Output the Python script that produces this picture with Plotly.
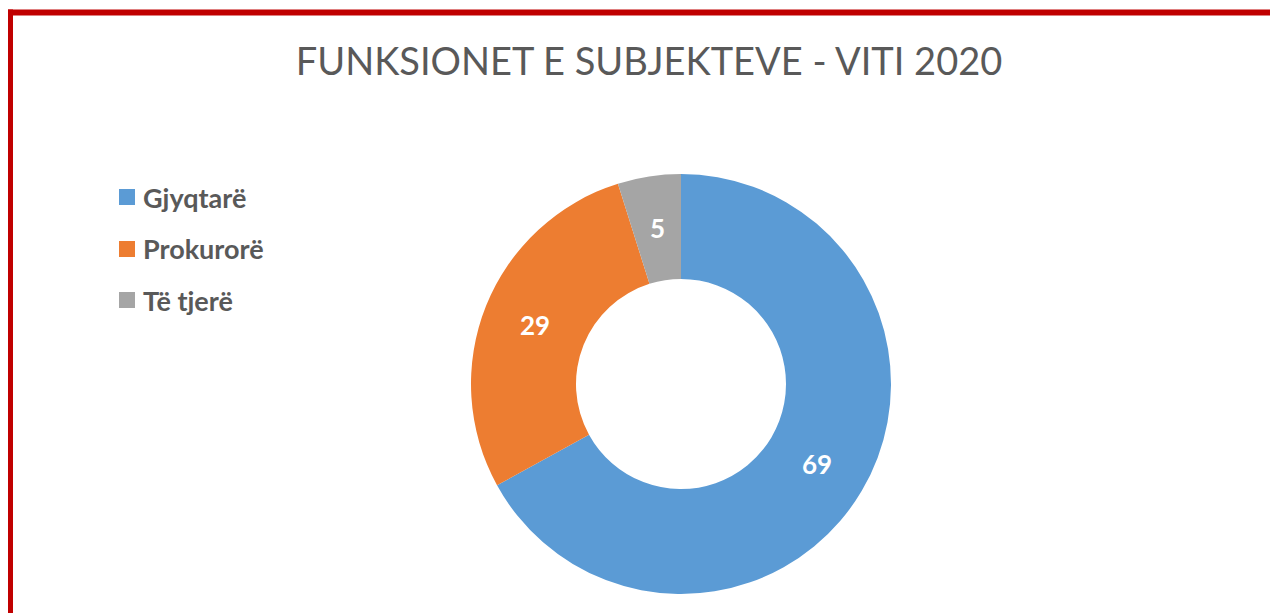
import math
import plotly.graph_objects as go

labels = ["Gjyqtarë", "Prokurorë", "Të tjerë"]
values = [69, 29, 5]
colors = ["#5B9BD5", "#ED7D31", "#A5A5A5"]
title_text = "FUNKSIONET E SUBJEKTEVE - VITI 2020"

OFF = 8  # default page body margin
W, H = 1278 - OFF, 613 - OFF


def px(x):
    return (x - OFF) / W


def py(y):
    return 1 - (y - OFF) / H


cx, cy, r, hole = 681, 384, 210, 0.5

fig = go.Figure(go.Pie(
    labels=labels, values=values, hole=hole, sort=False,
    direction="clockwise", rotation=0,
    marker=dict(colors=colors, line=dict(color="white", width=0)),
    textinfo="none", showlegend=False, hoverinfo="label+value",
    domain=dict(x=[px(cx - r), px(cx + r)], y=[py(cy + r), py(cy - r)]),
))

red = "#C00000"
shapes = [
    dict(type="rect", xref="paper", yref="paper", x0=px(7), x1=1.0, y0=py(15.5), y1=py(9.5),
         fillcolor=red, line=dict(width=0)),
    dict(type="rect", xref="paper", yref="paper", x0=px(7), x1=px(13), y0=0.0, y1=py(9.5),
         fillcolor=red, line=dict(width=0)),
]
annotations = []

# value labels at mid-ring of each slice
total = sum(values)
cum = 0
rm = r * (1 + hole) / 2
for v in values:
    ang = 2 * math.pi * (cum + v / 2) / total
    cum += v
    x = cx + rm * math.sin(ang)
    y = cy - rm * math.cos(ang)
    annotations.append(dict(text=str(v), xref="paper", yref="paper", x=px(x), y=py(y),
                            xanchor="center", yanchor="middle", showarrow=False,
                            font=dict(family="Lato", size=26, color="white", weight="bold")))

leg_y = [197, 249, 300]
for lab, col, y in zip(labels, colors, leg_y):
    shapes.append(dict(type="rect", xref="paper", yref="paper",
                       x0=px(119), x1=px(135), y0=py(y + 8), y1=py(y - 8),
                       fillcolor=col, line=dict(width=0)))
    annotations.append(dict(text=lab, xref="paper", yref="paper", x=px(141), y=py(y),
                            xanchor="left", yanchor="middle", showarrow=False,
                            font=dict(family="Lato", size=27, color="#595959", weight="bold")))

fig.update_layout(
    width=W, height=H, margin=dict(l=0, r=0, t=0, b=0),
    paper_bgcolor="white", plot_bgcolor="white",
    title=dict(text=title_text, x=px(649), xanchor="center", y=py(62), yanchor="middle",
               font=dict(family="Lato", size=38, color="#595959")),
    shapes=shapes, annotations=annotations,
)
fig.write_html("out.html")
